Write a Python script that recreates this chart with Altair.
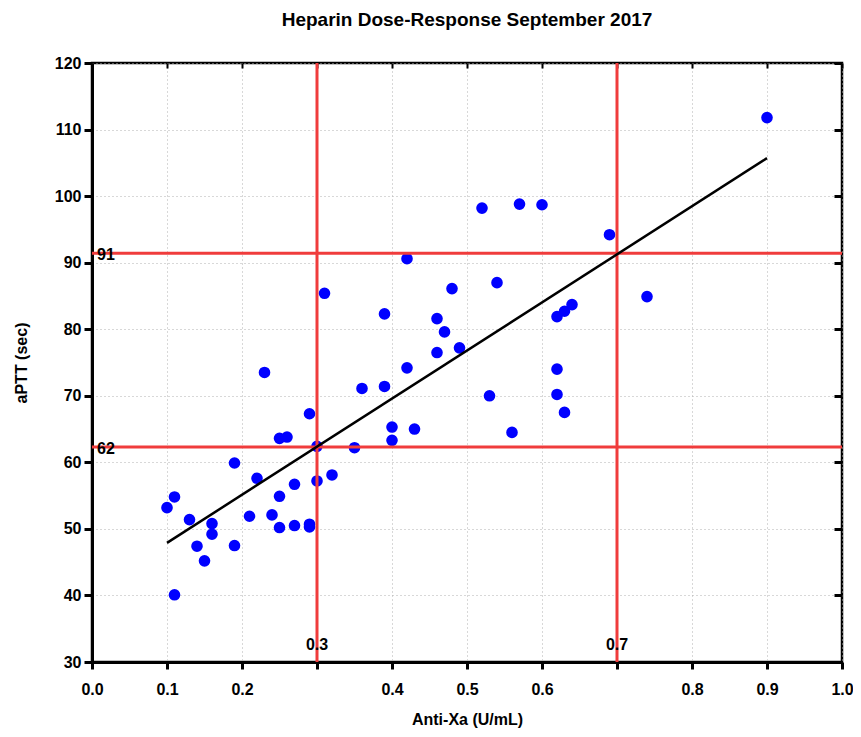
import altair as alt
import pandas as pd

# Data
anti_xa = [0.10, 0.11, 0.11, 0.13, 0.14, 0.15, 0.16, 0.16, 0.19, 0.19,
           0.21, 0.22, 0.23, 0.24, 0.25, 0.26, 0.25, 0.25, 0.27, 0.27,
           0.29, 0.29, 0.29, 0.30, 0.30, 0.32, 0.31, 0.35, 0.36, 0.39,
           0.39, 0.40, 0.40, 0.42, 0.42, 0.43, 0.46, 0.47, 0.46, 0.48,
           0.49, 0.52, 0.53, 0.54, 0.56, 0.57, 0.60, 0.62, 0.63, 0.64,
           0.62, 0.62, 0.63, 0.69, 0.74, 0.90]
aptt = [53.2, 54.8, 40.1, 51.4, 47.4, 45.2, 50.8, 49.2, 59.9, 47.5,
        51.9, 57.6, 73.5, 52.1, 63.6, 63.8, 54.9, 50.2, 56.7, 50.5,
        50.7, 50.3, 67.3, 62.4, 57.2, 58.1, 85.4, 62.2, 71.1, 82.3,
        71.4, 65.3, 63.3, 90.6, 74.2, 65.0, 81.6, 79.6, 76.5, 86.1,
        77.2, 98.2, 70.0, 87.0, 64.5, 98.8, 98.7, 81.9, 82.7, 83.7,
        74.0, 70.2, 67.5, 94.2, 84.9, 111.8]

fit_x = [0.10, 0.90]
fit_y = [47.9, 105.7]

ref_x = [0.3, 0.7]
ref_x_labels = ["0.3", "0.7"]
ref_y = [62.3, 91.4]
ref_y_labels = ["62", "91"]

x_ticks = [0.0, 0.1, 0.2, 0.3, 0.4, 0.5, 0.6, 0.7, 0.8, 0.9, 1.0]
y_ticks = [30, 40, 50, 60, 70, 80, 90, 100, 110, 120]

W, H = 750, 599
FONT = "Liberation Sans"
RED = "#f03c3c"

pts = pd.DataFrame({"x": anti_xa, "y": aptt})
fit = pd.DataFrame({"x": fit_x, "y": fit_y})
vref = pd.DataFrame({"x": ref_x, "label": ref_x_labels})
href = pd.DataFrame({"y": ref_y, "label": ref_y_labels})

xscale = alt.Scale(domain=[0, 1], nice=False, zero=False)
yscale = alt.Scale(domain=[30, 120], nice=False, zero=False)

label_expr = ("abs(datum.value-0.3)<0.001 || abs(datum.value-0.7)<0.001 ? '' : "
              "format(datum.value, '.1f')")

x_main = alt.X("x:Q", scale=xscale,
               axis=alt.Axis(values=x_ticks, labelExpr=label_expr,
                             title="Anti-Xa (U/mL)", orient="bottom",
                             grid=True, tickSize=7, labelPadding=12,
                             titlePadding=14, domainWidth=3, tickWidth=3,
                             labelFlush=False))
y_main = alt.Y("y:Q", scale=yscale,
               axis=alt.Axis(values=y_ticks, format="d", title="aPTT (sec)",
                             orient="left", grid=True, tickSize=8,
                             labelPadding=3, titlePadding=25,
                             domainWidth=3, tickWidth=3, labelFlush=False))

x_top = alt.X("x:Q", scale=xscale,
              axis=alt.Axis(values=x_ticks, orient="top", labels=False,
                            title=None, grid=False, domain=False,
                            tickSize=5, offset=-5, tickWidth=2))
y_right = alt.Y("y:Q", scale=yscale,
                axis=alt.Axis(values=y_ticks, orient="right", labels=False,
                              title=None, grid=False, domain=False,
                              tickSize=8, offset=-8, tickWidth=3))

x_plain = alt.X("x:Q", scale=xscale, axis=None)
y_plain = alt.Y("y:Q", scale=yscale, axis=None)

frame = alt.Chart(pts).mark_point(opacity=0).encode(x=x_top, y=y_right)

vlines = alt.Chart(vref).mark_rule(color=RED, strokeWidth=3).encode(x=x_plain)
hlines = alt.Chart(href).mark_rule(color=RED, strokeWidth=3).encode(y=y_plain)

fit_line = alt.Chart(fit).mark_line(color="black", strokeWidth=2.5).encode(
    x=x_plain, y=y_plain)

points = alt.Chart(pts).mark_circle(color="#0000ff", opacity=1, size=135).encode(
    x=x_main, y=y_main)

vtext = alt.Chart(vref).mark_text(font=FONT, fontWeight="bold", fontSize=16,
                                  color="black", align="center",
                                  baseline="middle", dy=-17).encode(
    x=x_plain, y=alt.value(H), text="label:N")
htext = alt.Chart(href).mark_text(font=FONT, fontWeight="bold", fontSize=16,
                                  color="black", align="left",
                                  baseline="middle", dy=2).encode(
    x=alt.value(5), y=y_plain, text="label:N")

chart = alt.layer(points, frame, vlines, hlines, fit_line, vtext, htext).properties(
    width=W, height=H,
    title=alt.TitleParams("Heparin Dose-Response September 2017",
                          font=FONT, fontSize=19, fontWeight="bold",
                          anchor="middle", offset=25, color="black"),
    autosize=alt.AutoSizeParams(type="none"),
    padding={"left": 84, "top": 55, "right": 11, "bottom": 67},
).configure_view(
    stroke="black", strokeWidth=2.5
).configure_axis(
    labelFont=FONT, labelFontSize=16, labelFontWeight="bold", labelColor="black",
    titleFont=FONT, titleFontSize=16, titleFontWeight="bold", titleColor="black",
    domainColor="black", tickColor="black",
    gridColor="#b0b0b0", gridDash=[1, 3], gridWidth=1,
)

chart.save("out.html", embed_options={"renderer": "svg", "actions": False})
